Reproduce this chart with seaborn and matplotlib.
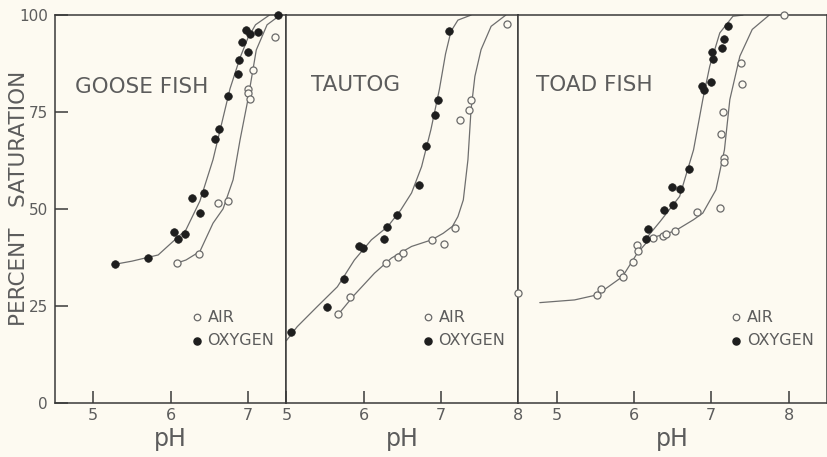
import pandas as pd
import matplotlib
matplotlib.use("Agg")
import matplotlib.pyplot as plt
import seaborn as sns

# --- data (pH vs percent saturation) ---
fish_names = ["GOOSE FISH", "TAUTOG", "TOAD FISH"]

# goose fish
goose_air_ph = [6.08, 6.37, 6.62, 6.75, 7.00, 7.00, 7.03, 7.07, 7.35]
goose_air_sat = [36.0, 38.3, 51.6, 52.1, 80.9, 79.9, 78.4, 85.9, 94.4]
goose_oxy_ph = [5.28, 5.71, 6.05, 6.10, 6.19, 6.28, 6.38, 6.43, 6.58, 6.63,
                6.75, 6.87, 6.88, 6.93, 6.98, 7.00, 7.03, 7.13, 7.39]
goose_oxy_sat = [35.7, 37.4, 44.0, 42.3, 43.5, 52.8, 48.8, 54.1, 68.0, 70.6,
                 79.0, 84.9, 88.3, 93.1, 96.1, 90.6, 95.1, 95.6, 100]
goose_oxy_curve_ph = [5.28, 5.50, 5.84, 6.00, 6.20, 6.38, 6.55, 6.77, 6.90, 7.00, 7.10, 7.28]
goose_oxy_curve_sat = [35.7, 36.5, 38.1, 41.0, 44.6, 52.0, 62.7, 81.0, 89.0, 94.0, 97.5, 100]
goose_air_curve_ph = [6.08, 6.20, 6.38, 6.55, 6.68, 6.81, 6.90, 7.00, 7.11, 7.25, 7.42]
goose_air_curve_sat = [36.0, 36.8, 39.0, 46.3, 50.0, 57.5, 67.8, 78.0, 91.0, 97.5, 100]

# tautog
tautog_air_ph = [5.67, 5.82, 6.29, 6.44, 6.51, 6.88, 7.04, 7.18, 7.25, 7.36, 7.39, 7.86]
tautog_air_sat = [22.9, 27.3, 36.0, 37.7, 38.5, 42.0, 40.9, 45.0, 73.0, 75.6, 78.2, 97.8]
tautog_oxy_ph = [5.06, 5.53, 5.74, 5.94, 5.99, 6.26, 6.30, 6.43, 6.72, 6.81, 6.92, 6.96, 7.11]
tautog_oxy_sat = [18.3, 24.6, 31.8, 40.4, 39.8, 42.2, 45.4, 48.4, 56.2, 66.1, 74.3, 78.2, 95.8]
tautog_oxy_curve_ph = [5.00, 5.14, 5.40, 5.66, 5.88, 6.10, 6.31, 6.48, 6.62, 6.75,
                       6.87, 6.98, 7.06, 7.13, 7.22, 7.39]
tautog_oxy_curve_sat = [16.0, 19.6, 24.8, 29.9, 36.8, 42.0, 45.4, 49.7, 54.1, 60.9,
                        70.4, 80.8, 90.0, 95.8, 98.7, 100]
tautog_air_curve_ph = [5.66, 5.88, 6.14, 6.36, 6.62, 6.88, 7.03, 7.15, 7.22, 7.29,
                       7.35, 7.39, 7.44, 7.52, 7.65, 7.84]
tautog_air_curve_sat = [22.5, 27.8, 33.4, 37.3, 40.3, 42.0, 43.7, 45.5, 48.0, 52.3,
                        62.7, 75.6, 84.2, 91.1, 97.1, 100]

# toad fish
toad_air_ph = [4.50, 5.52, 5.57, 5.82, 5.86, 5.99, 6.04, 6.05, 6.25, 6.38, 6.41,
               6.53, 6.82, 7.11, 7.17, 7.17, 7.13, 7.15, 7.38, 7.40, 7.94]
toad_air_sat = [28.2, 27.8, 29.2, 33.4, 32.3, 36.4, 40.7, 39.2, 42.4, 43.1, 43.5,
                44.4, 49.2, 50.2, 63.1, 62.1, 69.3, 74.9, 87.6, 82.3, 100]
toad_oxy_ph = [6.15, 6.18, 6.39, 6.49, 6.51, 6.59, 6.71, 6.88, 6.91, 6.99,
               7.01, 7.02, 7.14, 7.17, 7.22]
toad_oxy_sat = [42.2, 44.8, 49.7, 55.6, 51.0, 55.2, 60.3, 81.8, 80.6, 82.7,
                90.4, 88.7, 91.5, 93.7, 97.1]
toad_oxy_curve_ph = [6.15, 6.34, 6.59, 6.77, 6.89, 6.98, 7.11, 7.28, 7.41]
toad_oxy_curve_sat = [42.2, 46.8, 53.2, 65.2, 78.2, 86.8, 95.4, 99.7, 100]
toad_air_curve_ph = [4.78, 5.23, 5.52, 5.85, 6.04, 6.21, 6.53, 6.77, 6.89, 7.06,
                     7.17, 7.24, 7.37, 7.53, 7.75]
toad_air_curve_sat = [25.8, 26.5, 27.8, 32.5, 38.5, 42.4, 44.3, 47.2, 48.9, 54.9,
                      65.2, 78.2, 89.4, 96.3, 100]

x_limits = [(4.5, 7.5), (5.0, 8.0), (4.5, 8.5)]
x_ticks = [[5, 6, 7], [5, 6, 7, 8], [5, 6, 7, 8]]
y_ticks = [0, 25, 50, 75, 100]

panels = [
    (goose_air_ph, goose_air_sat, goose_oxy_ph, goose_oxy_sat,
     goose_air_curve_ph, goose_air_curve_sat, goose_oxy_curve_ph, goose_oxy_curve_sat),
    (tautog_air_ph, tautog_air_sat, tautog_oxy_ph, tautog_oxy_sat,
     tautog_air_curve_ph, tautog_air_curve_sat, tautog_oxy_curve_ph, tautog_oxy_curve_sat),
    (toad_air_ph, toad_air_sat, toad_oxy_ph, toad_oxy_sat,
     toad_air_curve_ph, toad_air_curve_sat, toad_oxy_curve_ph, toad_oxy_curve_sat),
]

# --- style ---
bg = "#fdfaf1"
ink = "#3a3a3a"
txt = "#5c5c5c"
sns.set_style("ticks")
plt.rcParams["font.family"] = ["DejaVu Sans"]
plt.rcParams["figure.facecolor"] = bg
plt.rcParams["axes.facecolor"] = bg

fig = plt.figure(figsize=(8.28, 4.57), dpi=100)
gs = fig.add_gridspec(1, 3, width_ratios=[3, 3, 4], left=0.066, right=0.999,
                      bottom=0.119, top=0.967, wspace=0)

title_pos = [(0.086, 0.815), (0.108, 0.82), (0.058, 0.82)]
legend_x = [6.34, 6.83, 7.32]

for i, (a_ph, a_sat, o_ph, o_sat, ac_ph, ac_sat, oc_ph, oc_sat) in enumerate(panels):
    ax = fig.add_subplot(gs[0, i])

    air_curve = pd.DataFrame({"pH": ac_ph, "sat": ac_sat})
    oxy_curve = pd.DataFrame({"pH": oc_ph, "sat": oc_sat})
    sns.lineplot(data=air_curve, x="pH", y="sat", ax=ax, color="#6e6e6e",
                 linewidth=0.9, estimator=None, sort=False)
    sns.lineplot(data=oxy_curve, x="pH", y="sat", ax=ax, color="#6e6e6e",
                 linewidth=0.9, estimator=None, sort=False)

    air = pd.DataFrame({"pH": a_ph, "sat": a_sat})
    oxy = pd.DataFrame({"pH": o_ph, "sat": o_sat})
    sns.scatterplot(data=air, x="pH", y="sat", ax=ax, marker="o", s=26,
                    facecolor=bg, edgecolor="#6a6a6a", linewidth=0.9,
                    zorder=3, clip_on=False)
    sns.scatterplot(data=oxy, x="pH", y="sat", ax=ax, marker="o", s=30,
                    color="#1e1e1e", edgecolor="#1e1e1e", linewidth=0.5,
                    zorder=4, clip_on=False)

    ax.set_xlim(*x_limits[i])
    ax.set_ylim(0, 100)
    ax.set_xticks(x_ticks[i])
    ax.set_xticklabels([str(t) for t in x_ticks[i]], fontsize=11.5, color=txt)
    ax.tick_params(axis="x", direction="in", length=9, width=1.1, color=ink, pad=4)
    if i == 0:
        ax.set_yticks(y_ticks)
        ax.set_yticklabels([str(t) for t in y_ticks], fontsize=11, color=txt)
        ax.tick_params(axis="y", direction="in", length=9.5, width=1.1, color=ink, pad=5)
    else:
        ax.set_yticks([])
    for sp in ax.spines.values():
        sp.set_visible(True)
        sp.set_color(ink)
        sp.set_linewidth(1.1)

    ax.set_xlabel("pH", fontsize=17, color=txt, labelpad=3)
    ax.set_ylabel("")
    ax.text(*title_pos[i], fish_names[i], transform=ax.transAxes, fontsize=15.5,
            color=txt, va="center", ha="left")

    # hand-drawn key
    lx = legend_x[i]
    ax.scatter([lx], [22.0], s=22, facecolor=bg, edgecolor="#6a6a6a", linewidth=0.9, zorder=4)
    ax.scatter([lx], [16.0], s=26, color="#1e1e1e", zorder=4)
    ax.text(lx + 0.14, 22.0, "AIR", fontsize=11.5, color=txt, va="center")
    ax.text(lx + 0.14, 16.0, "OXYGEN", fontsize=11.5, color=txt, va="center")

fig.text(0.0225, 0.565, "PERCENT   SATURATION", rotation=90, fontsize=15.5,
         color=txt, ha="center", va="center")

fig.savefig("out.png", dpi=100, facecolor=bg)
